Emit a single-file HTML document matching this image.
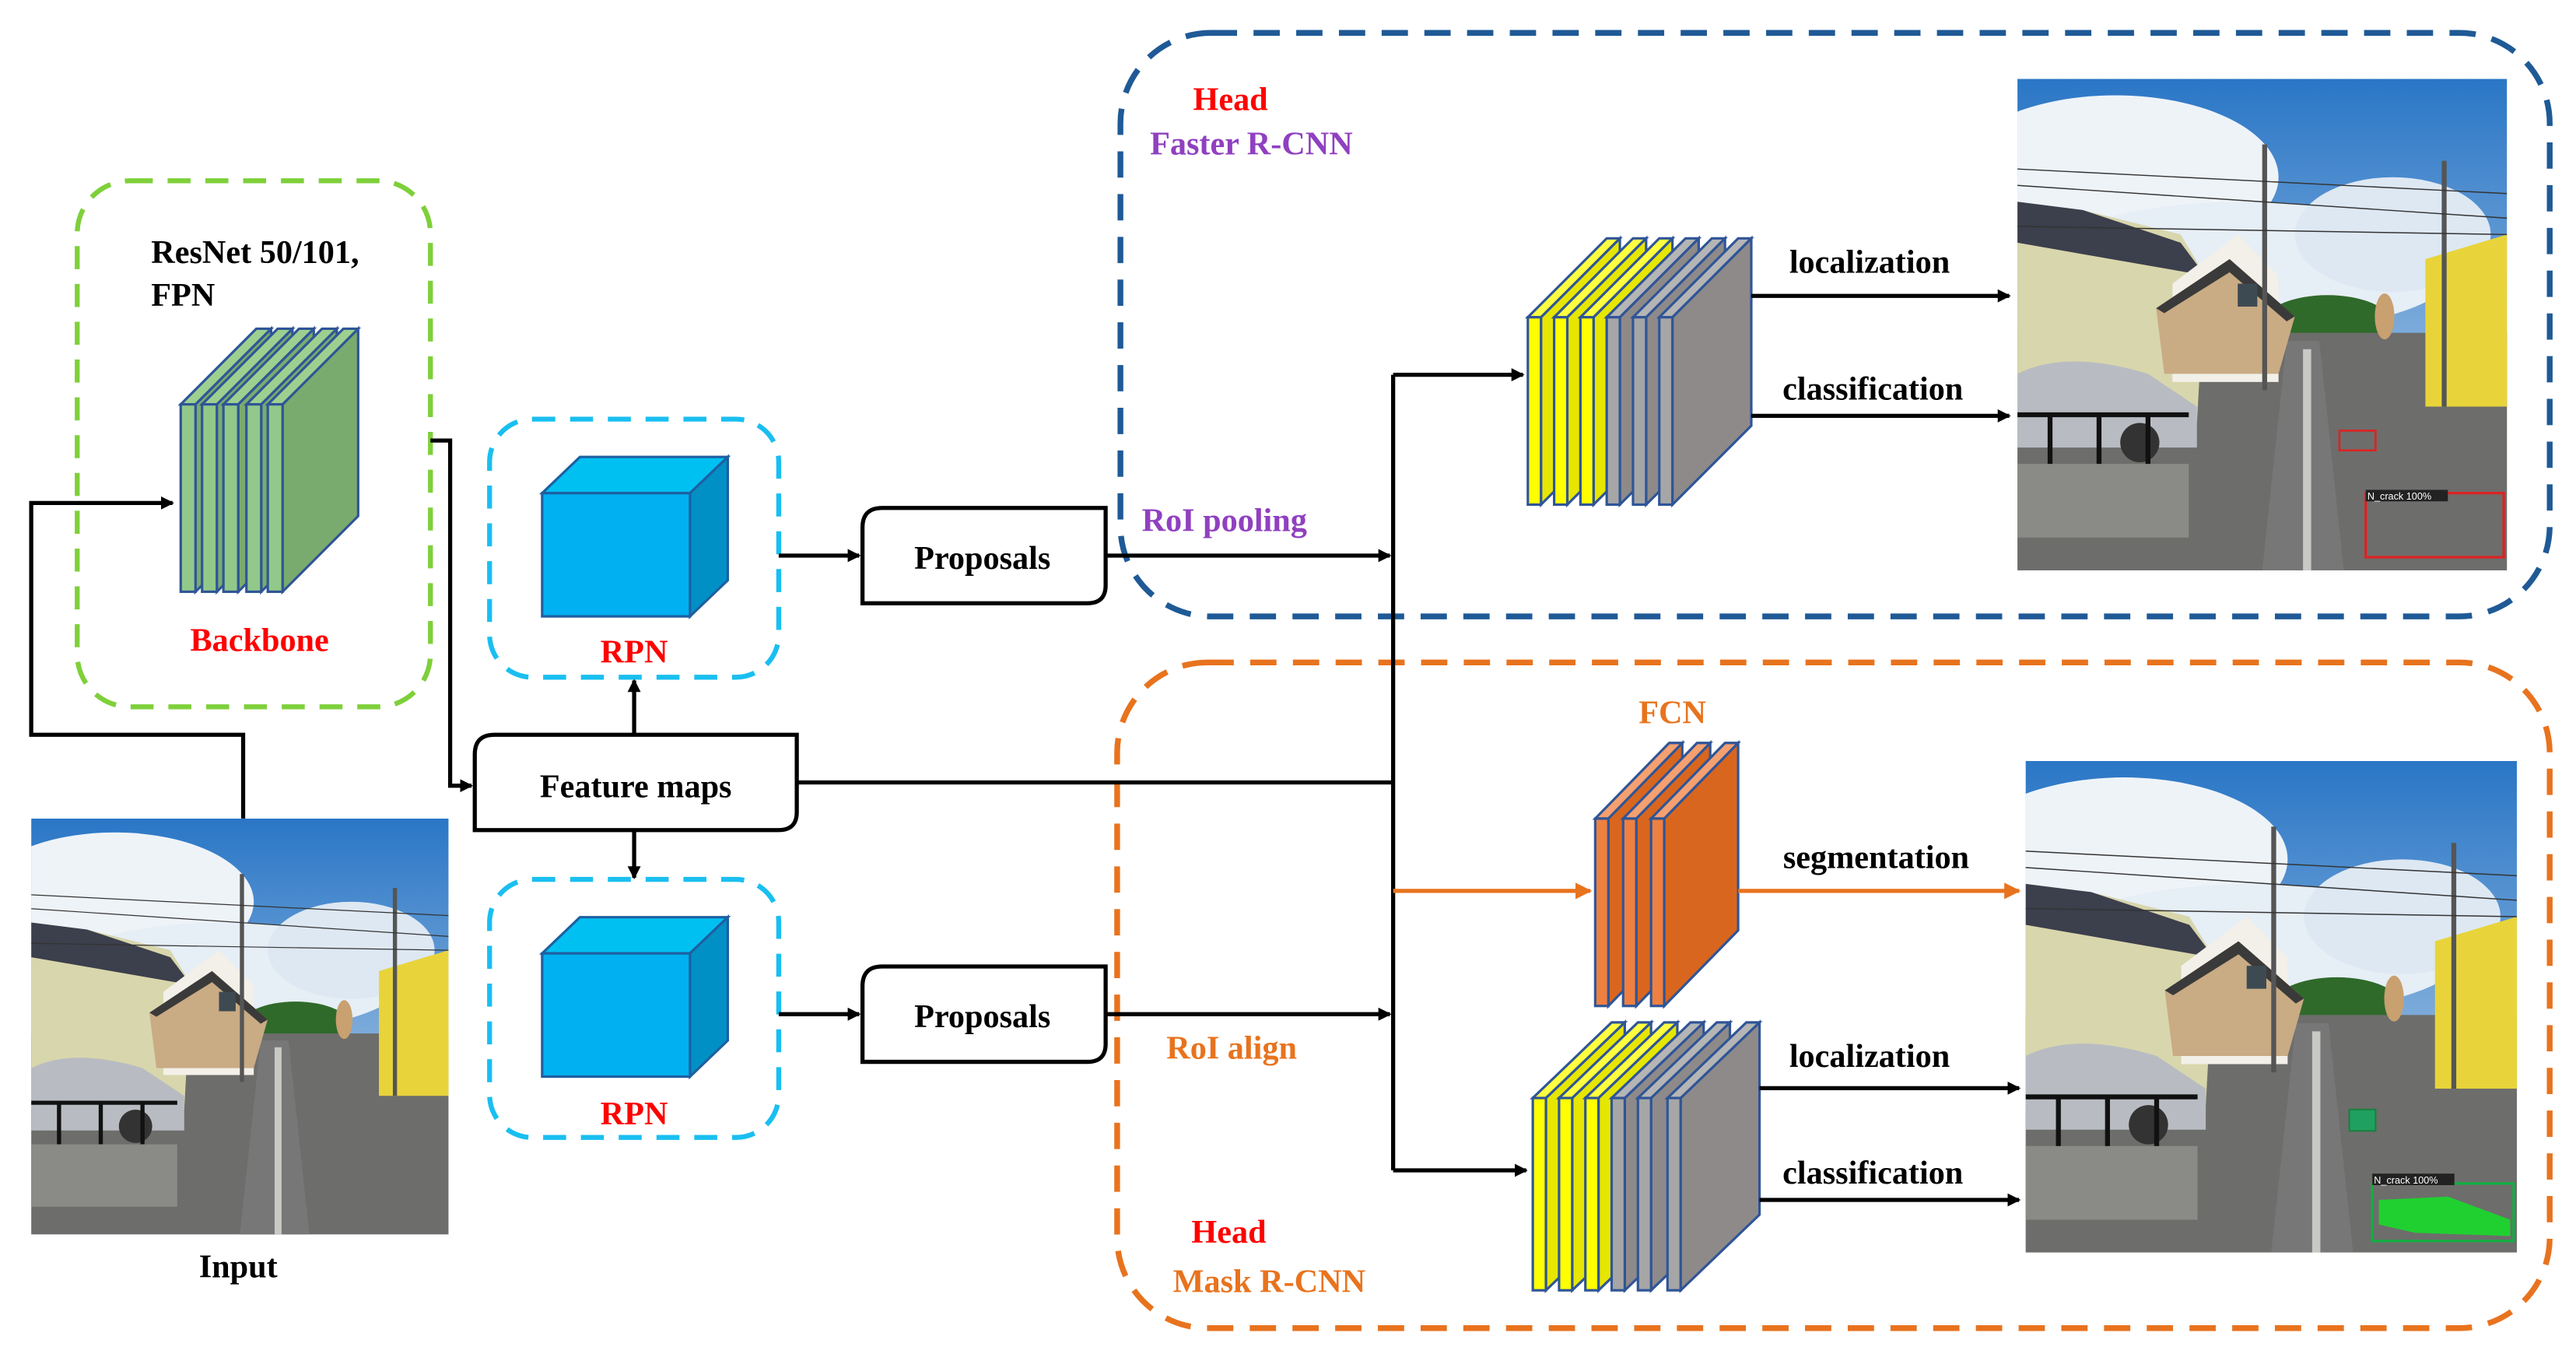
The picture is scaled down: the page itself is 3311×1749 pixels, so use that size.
<!DOCTYPE html>
<html><head><meta charset="utf-8"><style>html,body{margin:0;padding:0;background:#fff}svg{display:block}</style></head><body>
<svg width="3311" height="1749" viewBox="0 0 1568 828" preserveAspectRatio="none" xmlns="http://www.w3.org/2000/svg" font-family="'Liberation Serif',serif" font-weight="bold">
<defs>
<marker id="ah" markerWidth="8" markerHeight="8" refX="7" refY="4" orient="auto" markerUnits="userSpaceOnUse"><path d="M0,0 L8,4 L0,8Z" fill="#000"/></marker>
<marker id="ao" markerWidth="10" markerHeight="10" refX="9" refY="5" orient="auto" markerUnits="userSpaceOnUse"><path d="M0,0 L10,5 L0,10Z" fill="#e8731e"/></marker>
<linearGradient id="sky" x1="0" y1="0" x2="0" y2="1"><stop offset="0" stop-color="#2a76c6"/><stop offset="1" stop-color="#c8dcee"/></linearGradient>
<symbol id="photo" viewBox="0 0 300 300" preserveAspectRatio="none">
<rect width="300" height="300" fill="url(#sky)"/>
<ellipse cx="60" cy="60" rx="100" ry="50" fill="#eef3f8"/>
<ellipse cx="140" cy="115" rx="130" ry="40" fill="#e6eef6"/>
<ellipse cx="230" cy="95" rx="60" ry="35" fill="#dde8f3"/>
<ellipse cx="190" cy="150" rx="40" ry="18" fill="#2f6a2a"/>
<rect x="0" y="155" width="300" height="145" fill="#6d6d6b"/>
<polygon points="165,160 185,160 200,300 150,300" fill="#777"/>
<polygon points="0,75 40,80 100,95 115,120 110,210 0,210" fill="#d8d6ac"/>
<polygon points="0,75 40,80 100,100 115,120 0,100" fill="#3c3f4c"/>
<polygon points="95,125 135,95 160,120 160,185 95,185" fill="#f2f0e8"/>
<polygon points="85,140 130,110 170,145 160,180 90,180" fill="#c9ab84"/>
<polygon points="85,140 130,110 170,145 165,148 130,118 90,143" fill="#3a3a3a"/>
<rect x="135" y="125" width="12" height="14" fill="#3e4a52"/>
<polygon points="250,110 300,95 300,200 250,200" fill="#e8d43a"/>
<rect x="150" y="40" width="3" height="150" fill="#555"/>
<rect x="260" y="50" width="3" height="150" fill="#555"/>
<path d="M0,55 L300,70 M0,65 L300,85 M0,90 L300,95" stroke="#333" stroke-width="0.7"/>
<path d="M0,180 Q30,165 80,180 L110,200 L110,225 L0,225Z" fill="#b8bcc2"/>
<circle cx="75" cy="222" r="12" fill="#333"/>
<rect x="0" y="235" width="105" height="45" fill="#8a8a86"/>
<path d="M0,205 H105 M20,205 V235 M50,205 V235 M80,205 V235" stroke="#111" stroke-width="3"/>
<rect x="175" y="165" width="5" height="135" fill="#c8c8c4"/>
<ellipse cx="225" cy="145" rx="6" ry="14" fill="#c9a070"/>
</symbol>
<g id="pg"><polygon points="9,0 55,-46 55,68 9,114" fill="#7aab6e" stroke="#2f5597" stroke-width="1.5"/><polygon points="0,0 46,-46 55,-46 9,0" fill="#9dd08f" stroke="#2f5597" stroke-width="1.5"/><rect x="0" y="0" width="9" height="114" fill="#92c98a" stroke="#2f5597" stroke-width="1.5"/></g>
<g id="py"><polygon points="8,0 56,-48 56,66 8,114" fill="#e6e600" stroke="#2f5597" stroke-width="1.5"/><polygon points="0,0 48,-48 56,-48 8,0" fill="#ffff40" stroke="#2f5597" stroke-width="1.5"/><rect x="0" y="0" width="8" height="114" fill="#ffff00" stroke="#2f5597" stroke-width="1.5"/></g>
<g id="pgr"><polygon points="8,0 56,-48 56,66 8,114" fill="#8e8a8a" stroke="#2f5597" stroke-width="1.5"/><polygon points="0,0 48,-48 56,-48 8,0" fill="#b5b5b5" stroke="#2f5597" stroke-width="1.5"/><rect x="0" y="0" width="8" height="114" fill="#a6a6a6" stroke="#2f5597" stroke-width="1.5"/></g>
<g id="py2"><polygon points="8,0 56,-46 56,71 8,117" fill="#e6e600" stroke="#2f5597" stroke-width="1.5"/><polygon points="0,0 48,-46 56,-46 8,0" fill="#ffff40" stroke="#2f5597" stroke-width="1.5"/><rect x="0" y="0" width="8" height="117" fill="#ffff00" stroke="#2f5597" stroke-width="1.5"/></g>
<g id="pgr2"><polygon points="8,0 56,-46 56,71 8,117" fill="#8e8a8a" stroke="#2f5597" stroke-width="1.5"/><polygon points="0,0 48,-46 56,-46 8,0" fill="#b5b5b5" stroke="#2f5597" stroke-width="1.5"/><rect x="0" y="0" width="8" height="117" fill="#a6a6a6" stroke="#2f5597" stroke-width="1.5"/></g>
<g id="po"><polygon points="8,0 53,-46 53,68 8,114" fill="#d9661e" stroke="#2f5597" stroke-width="1.5"/><polygon points="0,0 45,-46 53,-46 8,0" fill="#f4a070" stroke="#2f5597" stroke-width="1.5"/><rect x="0" y="0" width="8" height="114" fill="#ef8040" stroke="#2f5597" stroke-width="1.5"/></g>
<g id="cube"><polygon points="0,22 23,0 113,0 90,22" fill="#00c0f2" stroke="#1f5fa0" stroke-width="1.5"/><polygon points="90,22 113,0 113,75 90,97" fill="#0090c6" stroke="#1f5fa0" stroke-width="1.5"/><rect x="0" y="22" width="90" height="75" fill="#00b0f0" stroke="#1f5fa0" stroke-width="1.5"/></g>
</defs>

<rect x="47" y="110" width="215" height="320" rx="32" fill="none" stroke="#7ed03a" stroke-width="3" stroke-dasharray="14,9"/>
<rect x="298" y="255" width="176" height="157" rx="26" fill="none" stroke="#19bff0" stroke-width="3" stroke-dasharray="14,9"/>
<rect x="298" y="535" width="176" height="157" rx="26" fill="none" stroke="#19bff0" stroke-width="3" stroke-dasharray="14,9"/>
<rect x="682" y="20" width="870" height="355" rx="55" fill="none" stroke="#1f5a96" stroke-width="3.5" stroke-dasharray="16,10"/>
<rect x="680" y="403" width="872" height="405" rx="55" fill="none" stroke="#e8731e" stroke-width="3.5" stroke-dasharray="16,10"/>

<use href="#photo" x="19" y="498" width="254" height="253"/>
<use href="#photo" x="1228" y="48" width="298" height="299"/>
<rect x="1424" y="262" width="22" height="12" fill="none" stroke="#e02020" stroke-width="1.2"/>
<rect x="1440" y="300" width="84" height="39" fill="none" stroke="#e02020" stroke-width="1.5"/>
<rect x="1440" y="298" width="50" height="7" fill="#222"/>
<text x="1441" y="304" font-family="'Liberation Sans',sans-serif" font-weight="normal" font-size="6" fill="#fff">N_crack 100%</text>
<use href="#photo" x="1233" y="463" width="299" height="299"/>
<rect x="1430" y="675" width="16" height="13" fill="#20a060" stroke="#1a8040"/>
<rect x="1444" y="720" width="86" height="35" fill="none" stroke="#10b040" stroke-width="1.5"/>
<path d="M1448,730 L1490,728 L1528,742 L1528,752 L1470,750 L1448,745Z" fill="#20d030"/>
<rect x="1444" y="714" width="50" height="7" fill="#222"/>
<text x="1445" y="720" font-family="'Liberation Sans',sans-serif" font-weight="normal" font-size="6" fill="#fff">N_crack 100%</text>

<use href="#pg" x="110" y="246"/><use href="#pg" x="123" y="246"/><use href="#pg" x="136" y="246"/><use href="#pg" x="150" y="246"/><use href="#pg" x="163" y="246"/>
<use href="#py" x="930" y="193"/><use href="#py" x="946" y="193"/><use href="#py" x="962" y="193"/><use href="#pgr" x="978" y="193"/><use href="#pgr" x="994" y="193"/><use href="#pgr" x="1010" y="193"/>
<use href="#py2" x="933" y="668"/><use href="#py2" x="949" y="668"/><use href="#py2" x="965" y="668"/><use href="#pgr2" x="981" y="668"/><use href="#pgr2" x="997" y="668"/><use href="#pgr2" x="1015" y="668"/>
<use href="#po" x="971" y="498"/><use href="#po" x="988" y="498"/><use href="#po" x="1005" y="498"/>
<use href="#cube" x="330" y="278"/>
<use href="#cube" x="330" y="558"/>

<path d="M537,309 H673 V356 Q673,367 662,367 H525 V321 Q525,309 537,309Z" fill="#fff" stroke="#000" stroke-width="2.5"/>
<path d="M537,588 H673 V635 Q673,646 662,646 H525 V600 Q525,588 537,588Z" fill="#fff" stroke="#000" stroke-width="2.5"/>
<path d="M301,447 H485 V494 Q485,505 474,505 H289 V459 Q289,447 301,447Z" fill="#fff" stroke="#000" stroke-width="2.5"/>

<g fill="none" stroke="#000" stroke-width="2.5">
<path d="M148,498 V447 H19 V306 H105" marker-end="url(#ah)"/>
<path d="M262,268 H274 V478 H287" marker-end="url(#ah)"/>
<path d="M386,447 V414" marker-end="url(#ah)"/>
<path d="M386,505 V534" marker-end="url(#ah)"/>
<path d="M474,338 H523" marker-end="url(#ah)"/>
<path d="M474,617 H523" marker-end="url(#ah)"/>
<path d="M673,338 H846" marker-end="url(#ah)"/>
<path d="M673,617 H846" marker-end="url(#ah)"/>
<path d="M485,476 H848"/>
<path d="M848,228 V712"/>
<path d="M848,228 H927" marker-end="url(#ah)"/>
<path d="M848,712 H929" marker-end="url(#ah)"/>
<path d="M1066,180 H1223" marker-end="url(#ah)"/>
<path d="M1066,253 H1223" marker-end="url(#ah)"/>
<path d="M1071,662 H1229" marker-end="url(#ah)"/>
<path d="M1071,730 H1229" marker-end="url(#ah)"/>
</g>
<g fill="none" stroke="#e8731e" stroke-width="2.5">
<path d="M848,542 H968" marker-end="url(#ao)"/>
<path d="M1058,542 H1229" marker-end="url(#ao)"/>
</g>

<g font-size="20" fill="#000">
<text x="92" y="160">ResNet 50/101,</text>
<text x="92" y="186">FPN</text>
<text x="598" y="346" text-anchor="middle">Proposals</text>
<text x="598" y="625" text-anchor="middle">Proposals</text>
<text x="387" y="485" text-anchor="middle">Feature maps</text>
<text x="145" y="777" text-anchor="middle">Input</text>
<text x="1138" y="166" text-anchor="middle">localization</text>
<text x="1140" y="243" text-anchor="middle">classification</text>
<text x="1142" y="528" text-anchor="middle">segmentation</text>
<text x="1138" y="649" text-anchor="middle">localization</text>
<text x="1140" y="720" text-anchor="middle">classification</text>
</g>
<g font-size="20">
<text x="158" y="396" text-anchor="middle" fill="#ff0000">Backbone</text>
<text x="386" y="403" text-anchor="middle" fill="#ff0000">RPN</text>
<text x="386" y="684" text-anchor="middle" fill="#ff0000">RPN</text>
<text x="749" y="67" text-anchor="middle" fill="#ff0000">Head</text>
<text x="700" y="94" fill="#9040c0">Faster R-CNN</text>
<text x="695" y="323" fill="#9040c0">RoI pooling</text>
<text x="1018" y="440" text-anchor="middle" fill="#e8731e">FCN</text>
<text x="710" y="644" fill="#e8731e">RoI align</text>
<text x="748" y="756" text-anchor="middle" fill="#ff0000">Head</text>
<text x="714" y="786" fill="#e8731e">Mask R-CNN</text>
</g>
</svg>
</body></html>
